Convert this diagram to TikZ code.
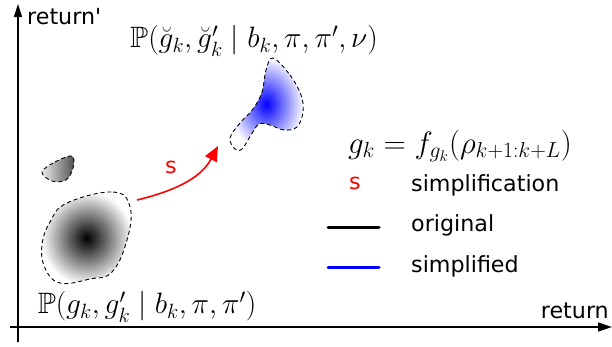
\RequirePackage{fix-cm}
\documentclass[tikz,border=0pt]{standalone}
\usepackage{amssymb}
\usepackage{fontspec}
\setmainfont{DejaVu Sans}
\usetikzlibrary{arrows.meta}
\begin{document}
\begin{tikzpicture}[x=1pt,y=-1pt,
  every node/.style={font=\fontsize{22.2}{26}\selectfont, inner sep=0pt},
  mathlab/.style={font=\fontsize{29.5}{35}\selectfont},
  axis/.style={line width=1.4pt},
  outline/.style={draw=black, dashed, line width=0.9pt, dash pattern=on 4pt off 3pt},
  legline/.style={line width=3pt, line cap=round}]
\useasboundingbox (0,0) rectangle (612,346);
% axes
\coordinate (xs) at (10,327);
\coordinate (xe) at (612,327);
\coordinate (ys) at (18,342);
\coordinate (ye) at (18,4);
\draw[axis, -{Triangle[length=14pt,width=9pt]}] (xs) -- (xe);
\draw[axis, -{Triangle[length=13pt,width=8pt]}] (ys) -- (ye);
\node[anchor=west] (ylab) at (27,17) {return\textquotesingle};
\node[anchor=east] (xlab) at (609,311) {return};
% big gray blob
\shade[inner color=black, outer color=white, outline]
  plot[smooth cycle, tension=0.7] coordinates {(67,203) (113,192) (130,207) (127,240) (112,272) (90,279) (60,283) (45,268) (42,245) (50,222)};
% small gray blob
\shade[left color=gray!15, right color=black!70, outline]
  plot[smooth cycle, tension=0.6] coordinates {(42,172) (55,162) (72,156) (73,168) (66,180) (52,181)};
% blue blob
\shade[inner color=blue, outer color=white, outline]
  plot[smooth cycle, tension=0.6] coordinates {(273,58) (290,75) (301,95) (303,112) (297,127) (284,130) (270,125) (259,124) (251,135) (242,149) (235,149) (230,138) (240,123) (253,109) (262,92) (266,70)};
% labels
\node[mathlab] (ptop) at (254,41) {$\mathbb{P}(\breve{g}_k,\breve{g}'_k \mid b_k,\pi,\pi',\nu)$};
\node[mathlab] (pbot) at (147,307) {$\mathbb{P}(g_k,g'_k \mid b_k,\pi,\pi')$};
% red arrow
\coordinate (as) at (137,200);
\coordinate (ae) at (218,146);
\draw[red, line width=1.6pt, -{Triangle[length=15pt,width=13pt]}] (as) .. controls (170,192) and (200,180) .. (ae);
\node[red] (s) at (171,167) {s};
% legend
\node[font=\fontsize{31}{37}\selectfont] (eq) at (460,146) {$g_k = f_{g_k}(\rho_{k+1:k+L})$};
\node[red] (ls) at (355,183) {s};
\node[anchor=west] (lt1) at (411,185) {simplification};
\coordinate (o1) at (328,227);
\coordinate (o2) at (379,227);
\draw[legline, black] (o1) -- (o2);
\node[anchor=west] (lt2) at (411,225) {original};
\coordinate (b1) at (328,267);
\coordinate (b2) at (379,267);
\draw[legline, blue] (b1) -- (b2);
\node[anchor=west] (lt3) at (411,266) {simplified};
\end{tikzpicture}
\end{document}
